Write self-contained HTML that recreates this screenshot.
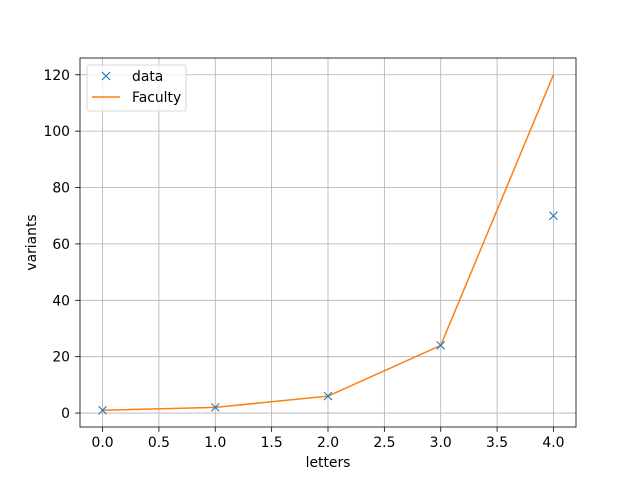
<!DOCTYPE html>
<html><head><meta charset="utf-8"><style>
html,body{margin:0;padding:0;background:#fff;}
svg{display:block;font-family:"DejaVu Sans","Liberation Sans",sans-serif;}
</style></head><body>
<svg id="chart" width="640" height="480" viewBox="0 0 640 480"></svg>
<script>
const xValues = [0, 1, 2, 3, 4];
const dataValues = [1, 2, 6, 24, 70];
const facultyValues = [1, 2, 6, 24, 120];
const xTicks = [0, 0.5, 1, 1.5, 2, 2.5, 3, 3.5, 4];
const yTicks = [0, 20, 40, 60, 80, 100, 120];

const L = 80, R = 576, T = 58, B = 427;
const FS = 13.9;
const xMin = -0.2, xMax = 4.2, yMin = -4.95, yMax = 125.95;
const sx = v => L + (v - xMin) / (xMax - xMin) * (R - L);
const sy = v => B - (v - yMin) / (yMax - yMin) * (B - T);
const svg = document.getElementById('chart');
const NS = 'http://www.w3.org/2000/svg';
function mk(tag, attrs, parent) {
  const e = document.createElementNS(NS, tag);
  for (const k in attrs) e.setAttribute(k, attrs[k]);
  (parent || svg).appendChild(e);
  return e;
}
xTicks.forEach(t => {
  const g = mk('line', {x1: sx(t), x2: sx(t), y1: T, y2: B, stroke: '#b0b0b0', 'stroke-width': 0.8});
  
  
  const tk = mk('line', {x1: sx(t), x2: sx(t), y1: B, y2: B + 4.9, stroke: '#000', 'stroke-width': 0.8});
  
  
  const tx = mk('text', {x: sx(t), y: B + 20, 'font-size': FS, 'text-anchor': 'middle', fill: '#000'});
  tx.textContent = t.toFixed(1);
  
  
});
yTicks.forEach(t => {
  const g = mk('line', {x1: L, x2: R, y1: sy(t), y2: sy(t), stroke: '#b0b0b0', 'stroke-width': 0.8});
  
  
  const tk = mk('line', {x1: L - 4.9, x2: L, y1: sy(t), y2: sy(t), stroke: '#000', 'stroke-width': 0.8});
  
  
  const tx = mk('text', {x: L - 10, y: sy(t) + 5, 'font-size': FS, 'text-anchor': 'end', fill: '#000'});
  tx.textContent = t;
  
  
});
const line = mk('polyline', {points: xValues.map((x, i) => sx(x) + ',' + sy(facultyValues[i])).join(' '), fill: 'none', stroke: '#ff7f0e', 'stroke-width': 1.5});


xValues.forEach((x, i) => {
  const cx = sx(x), cy = sy(dataValues[i]), s = 4;
  const p = mk('path', {d: `M${cx-s},${cy-s}L${cx+s},${cy+s}M${cx-s},${cy+s}L${cx+s},${cy-s}`, stroke: '#1f77b4', 'stroke-width': 1.1, fill: 'none'});
  
  
});
const fr = mk('rect', {x: L, y: T, width: R - L, height: B - T, fill: 'none', stroke: '#000', 'stroke-width': 0.8});


const xl = mk('text', {x: (L + R) / 2, y: 467, 'font-size': FS, 'text-anchor': 'middle'});
xl.textContent = 'letters';


const yl = mk('text', {x: 36, y: (T + B) / 2, 'font-size': FS, 'text-anchor': 'middle', transform: `rotate(-90 36 ${(T + B) / 2})`});
yl.textContent = 'variants';


const lg = mk('g', {});


mk('rect', {x: 87, y: 65, width: 99, height: 46, rx: 2, fill: '#fff', 'fill-opacity': 0.8, stroke: '#ccc', 'stroke-width': 0.8}, lg);
mk('path', {d: 'M102,72L110,80M102,80L110,72', stroke: '#1f77b4', 'stroke-width': 1.1}, lg);
const t1 = mk('text', {x: 132, y: 81, 'font-size': FS}, lg);
t1.textContent = 'data';


mk('line', {x1: 92, x2: 120, y1: 97, y2: 97, stroke: '#ff7f0e', 'stroke-width': 1.5}, lg);
const t2 = mk('text', {x: 132, y: 102, 'font-size': FS}, lg);
t2.textContent = 'Faculty';


</script>
</body></html>
